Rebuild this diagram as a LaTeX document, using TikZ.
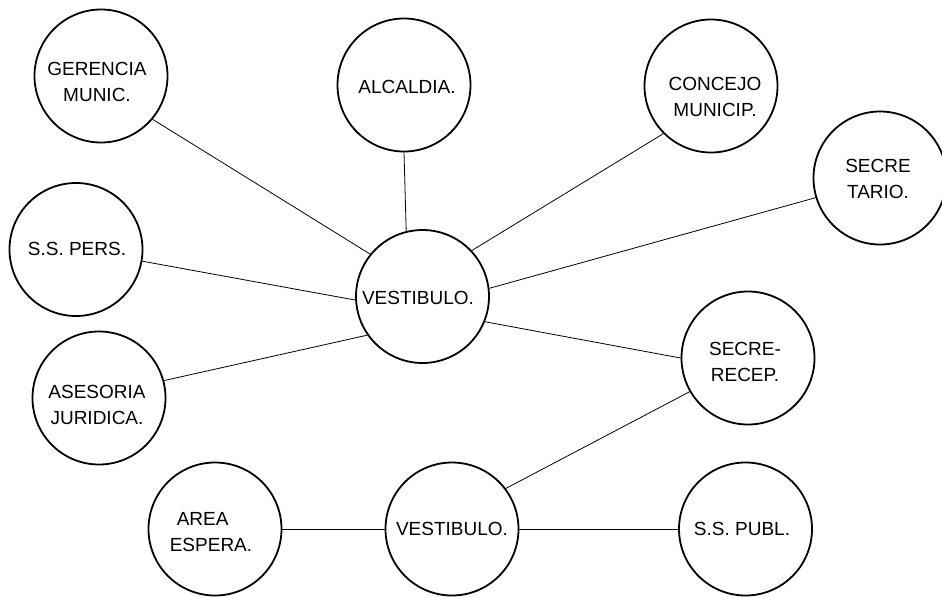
\documentclass[tikz,border=0pt]{standalone}
\usepackage{fontspec}
\setmainfont{Liberation Sans}
\begin{document}
\begin{tikzpicture}[x=1pt,y=-1pt,
  circ/.style={draw, circle, line width=1.8pt, minimum size=133pt, inner sep=0pt},
  txt/.style={font=\fontsize{19}{26}\selectfont, align=center, inner sep=0pt},
  link/.style={line width=0.8pt}]
\useasboundingbox[fill=white] (0,0) rectangle (942,597);
% circles
\node[circ] (ger)  at (101,76) {};
\node[circ] (alc)  at (404,85) {};
\node[circ] (con)  at (711,86) {};
\node[circ] (sec)  at (880,178) {};
\node[circ] (pers) at (76,249.5) {};
\node[circ] (vest) at (422.5,296.5) {};
\node[circ] (rec)  at (748,358) {};
\node[circ] (ase)  at (99,398) {};
\node[circ] (area) at (215,529) {};
\node[circ] (vb)   at (452,529) {};
\node[circ] (pub)  at (745.5,529) {};
% labels
\node[txt] (tger)  at (97,82)    {GERENCIA\\MUNIC.};
\node[txt] (talc)  at (407,87)   {ALCALDIA.};
\node[txt] (tcon)  at (715,97)   {CONCEJO\\MUNICIP.};
\node[txt] (tsec)  at (878,179)  {SECRE\\TARIO.};
\node[txt] (tpers) at (77,249)   {S.S. PERS.};
\node[txt] (tvest) at (418,298)  {VESTIBULO.};
\node[txt] (trec)  at (745,362)  {SECRE-\\RECEP.};
\node[txt] (tase)  at (97,405)   {ASESORIA\\JURIDICA.};
\node[txt, align=left] (tarea) at (211,532) {\hspace*{7pt}AREA\\ESPERA.};
\node[txt] (tvb)   at (452,529)  {VESTIBULO.};
\node[txt] (tpub)  at (742,529)  {S.S. PUBL.};
% connectors
\draw[link] (ger.-40)   -- (vest.141);
\draw[link] (alc.-90)   -- (vest.104);
\draw[link] (con.225)   -- (vest.43);
\draw[link] (sec.-163)  -- (vest.7);
\draw[link] (pers.-10)  -- (vest.-177);
\draw[link] (ase.15)    -- (vest.-145);
\draw[link] (vest.-22)  -- (rec.180);
\draw[link] (rec.210)   -- (vb.37);
\draw[link] (area.0)    -- (vb.180);
\draw[link] (vb.0)      -- (pub.180);
\end{tikzpicture}
\end{document}
